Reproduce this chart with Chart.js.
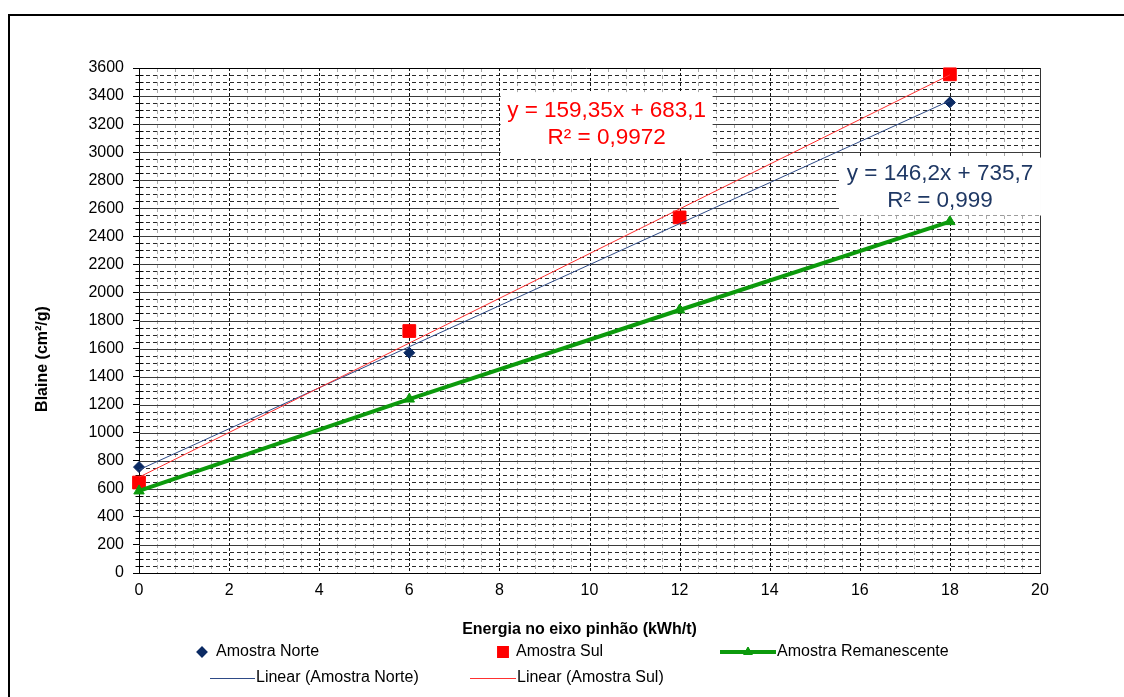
<!DOCTYPE html>
<html>
<head>
<meta charset="utf-8">
<script src="https://cdn.jsdelivr.net/npm/chart.js@4"></script>
<style>
  html, body { margin: 0; padding: 0; background: #fff; }
  #wrap { width: 1124px; height: 697px; position: relative; }
</style>
</head>
<body>
<div id="wrap"><canvas id="chart"></canvas></div>
<script>
// --- data ---
const energia = [0, 6, 12, 18];                       // kWh/t
const blaineNorte = [755, 1570, 2540, 3355];          // cm²/g
const blaineSul = [645, 1725, 2535, 3555];
const blaineRemanescente = [585, 1240, 1875, 2505];

// trendline coefficients as printed on the chart: [slope, intercept]
const trendNorte = [146.2, 735.7];
const trendSul = [159.35, 683.1];
const eqNorte = ['y = 146,2x + 735,7', 'R² = 0,999'];
const eqSul = ['y = 159,35x + 683,1', 'R² = 0,9972'];

const xRange = [0, 20, 2];     // min, max, step
const yRange = [0, 3600, 200];
const xTitle = 'Energia no eixo pinhão (kWh/t)';
const yTitle = 'Blaine (cm²/g)';

const FONT = '"Liberation Sans", Arial, sans-serif';
const NAVY = '#0b2a63';
const RED = '#ff0000';
const GREEN = '#0c9a0c';

Chart.defaults.font.family = FONT;
Chart.defaults.color = '#000';

const pts = (xs, ys) => xs.map((x, i) => ({ x: x, y: ys[i] }));
// trendline spans the sampled range
const trend = (c) => [energia[0], energia[energia.length - 1]].map(x => ({ x: x, y: c[0] * x + c[1] }));

// Excel-like grid: minor dashed lines, solid majors on y, dashed majors on x
const gridPlugin = {
  id: 'excelGrid',
  beforeDatasetsDraw(chart) {
    const { ctx, chartArea: a, scales: { x, y } } = chart;
    ctx.save();
    ctx.lineWidth = 1;
    const hline = (v, color, dash, x0, x1) => {
      const py = Math.round(y.getPixelForValue(v)) + 0.5;
      ctx.strokeStyle = color;
      ctx.setLineDash(dash);
      ctx.beginPath();
      ctx.moveTo(x0 !== undefined ? x0 : a.left, py);
      ctx.lineTo(x1 !== undefined ? x1 : a.right, py);
      ctx.stroke();
    };
    const vline = (v, color, dash) => {
      const px = Math.round(x.getPixelForValue(v)) + 0.5;
      ctx.strokeStyle = color;
      ctx.setLineDash(dash);
      ctx.beginPath();
      ctx.moveTo(px, a.top);
      ctx.lineTo(px, a.bottom);
      ctx.stroke();
    };
    // minor verticals every 0.4
    for (let i = 1; i < 50; i++) {
      if (i % 5 === 0) continue;
      vline(i * 0.4, '#a8a8a8', [4, 3]);
    }
    // minor horizontals every 50
    for (let v = 50; v < yRange[1]; v += 50) {
      if (v % 200 === 0) continue;
      hline(v, '#2a2a2a', [4, 3]);
    }
    // major horizontals
    for (let v = yRange[2]; v < yRange[1]; v += yRange[2]) hline(v, '#3a3a3a', []);
    // major verticals (dashed)
    for (let v = xRange[2]; v < xRange[1]; v += xRange[2]) vline(v, '#111', [3, 2]);
    // top + right border
    hline(yRange[1], '#000', [], a.left - 6, a.right);
    vline(xRange[1], '#333', []);
    // small crossing ticks on the y axis
    ctx.strokeStyle = '#000';
    ctx.setLineDash([]);
    const ax = Math.round(a.left) + 0.5;
    for (let v = 50; v < yRange[1]; v += 50) {
      if (v % 200 === 0) continue;
      const py = Math.round(y.getPixelForValue(v)) + 0.5;
      ctx.beginPath();
      ctx.moveTo(ax - 4, py);
      ctx.lineTo(ax + 4, py);
      ctx.stroke();
    }
    ctx.restore();
  }
};

// regression equation boxes
const eqPlugin = {
  id: 'eqBoxes',
  afterDatasetsDraw(chart) {
    const { ctx, scales: { x, y } } = chart;
    const boxes = [
      { lines: eqSul, color: RED, cx: 10.38, cy: 3200, w: 212, h: 64 },
      { lines: eqNorte, color: '#1f3864', cx: 17.78, cy: 2755, w: 202, h: 58 }
    ];
    ctx.save();
    ctx.font = '22.5px ' + FONT;
    ctx.textAlign = 'center';
    ctx.textBaseline = 'middle';
    boxes.forEach(b => {
      const px = x.getPixelForValue(b.cx);
      const py = y.getPixelForValue(b.cy);
      ctx.fillStyle = '#fff';
      ctx.fillRect(px - b.w / 2, py - b.h / 2, b.w, b.h);
      ctx.fillStyle = b.color;
      ctx.fillText(b.lines[0], px, py - 13);
      ctx.fillText(b.lines[1], px, py + 14);
    });
    ctx.restore();
  }
};

// frame, axis titles and the two-row legend
const decoPlugin = {
  id: 'deco',
  afterDraw(chart) {
    const { ctx, chartArea: a } = chart;
    ctx.save();
    ctx.strokeStyle = '#000';
    ctx.lineWidth = 2;
    ctx.beginPath();
    ctx.moveTo(9, 710);
    ctx.lineTo(9, 15);
    ctx.lineTo(1130, 15);
    ctx.stroke();

    ctx.fillStyle = '#000';
    ctx.font = 'bold 16px ' + FONT;
    ctx.textAlign = 'center';
    ctx.textBaseline = 'middle';
    ctx.fillText(xTitle, (a.left + a.right) / 2 - 10, 630);
    ctx.save();
    ctx.translate(43, 359);
    ctx.rotate(-Math.PI / 2);
    ctx.fillText(yTitle, 0, 0);
    ctx.restore();

    ctx.font = '16px ' + FONT;
    ctx.textAlign = 'left';
    const ds = chart.data.datasets;
    const row1 = 652, row2 = 678;
    const marker = (d, px, py) => {
      Chart.helpers.drawPoint(ctx, {
        pointStyle: d.pointStyle, radius: d.legendRadius, rotation: 0, borderWidth: 1
      }, px, py);
    };
    ctx.setLineDash([]);
    // Amostra Norte
    ctx.fillStyle = NAVY; ctx.strokeStyle = NAVY;
    marker(ds[0], 202, row1); ctx.fill();
    ctx.fillStyle = '#000';
    ctx.fillText(ds[0].label, 216, row1);
    // Amostra Sul
    ctx.fillStyle = RED; ctx.strokeStyle = RED;
    marker(ds[1], 503, row1); ctx.fill();
    ctx.fillStyle = '#000';
    ctx.fillText(ds[1].label, 516, row1);
    // Amostra Remanescente
    ctx.strokeStyle = GREEN; ctx.lineWidth = 4;
    ctx.beginPath(); ctx.moveTo(720, row1); ctx.lineTo(776, row1); ctx.stroke();
    ctx.fillStyle = GREEN; ctx.lineWidth = 1;
    marker(ds[2], 748, row1); ctx.fill();
    ctx.fillStyle = '#000';
    ctx.fillText(ds[2].label, 777, row1);
    // Linear lines
    ctx.lineWidth = 1;
    ctx.strokeStyle = ds[3].borderColor;
    ctx.beginPath(); ctx.moveTo(210, row2 + 0.5); ctx.lineTo(255, row2 + 0.5); ctx.stroke();
    ctx.fillText(ds[3].label, 256, row2);
    ctx.strokeStyle = ds[4].borderColor;
    ctx.beginPath(); ctx.moveTo(470, row2 + 0.5); ctx.lineTo(516, row2 + 0.5); ctx.stroke();
    ctx.fillText(ds[4].label, 517, row2);
    ctx.restore();
  }
};

new Chart(document.getElementById('chart'), {
  type: 'scatter',
  plugins: [gridPlugin, eqPlugin, decoPlugin],
  data: {
    datasets: [
      {
        label: 'Amostra Norte',
        data: pts(energia, blaineNorte),
        pointStyle: 'rectRot',
        pointRadius: 5.5,
        legendRadius: 4.5,
        backgroundColor: NAVY,
        borderColor: NAVY,
        showLine: false,
        clip: false,
        order: 4
      },
      {
        label: 'Amostra Sul',
        data: pts(energia, blaineSul),
        pointStyle: 'rect',
        pointRadius: 9,
        legendRadius: 7,
        backgroundColor: RED,
        borderColor: RED,
        showLine: false,
        clip: false,
        order: 3
      },
      {
        label: 'Amostra Remanescente',
        data: pts(energia, blaineRemanescente),
        pointStyle: 'triangle',
        pointRadius: 6,
        legendRadius: 5,
        backgroundColor: GREEN,
        borderColor: GREEN,
        borderWidth: 4,
        pointBorderWidth: 1,
        showLine: true,
        clip: false,
        order: 2
      },
      {
        label: 'Linear (Amostra Norte)',
        data: trend(trendNorte),
        borderColor: '#2e4a86',
        borderWidth: 1,
        pointRadius: 0,
        showLine: true,
        clip: false,
        order: 1
      },
      {
        label: 'Linear (Amostra Sul)',
        data: trend(trendSul),
        borderColor: '#ff3030',
        borderWidth: 1,
        pointRadius: 0,
        showLine: true,
        clip: false,
        order: 0
      }
    ]
  },
  options: {
    responsive: true,
    maintainAspectRatio: false,
    animation: false,
    events: [],
    layout: { padding: { left: 0, top: 68, right: 84, bottom: 52 } },
    plugins: {
      legend: { display: false },
      tooltip: { enabled: false }
    },
    scales: {
      x: {
        type: 'linear',
        min: xRange[0],
        max: xRange[1],
        ticks: { stepSize: xRange[2], font: { size: 16 }, color: '#000', padding: 8 },
        grid: { display: true, drawOnChartArea: false, drawTicks: false },
        border: { display: true, color: '#000', width: 1 },
        afterFit: (s) => { s.height = 697 - 52 - 573; }
      },
      y: {
        min: yRange[0],
        max: yRange[1],
        ticks: {
          stepSize: yRange[2], font: { size: 16 }, color: '#000', padding: 9,
          callback: (v) => String(v)
        },
        grid: { display: true, drawOnChartArea: false, drawTicks: true, tickLength: 6, tickColor: '#000' },
        border: { display: true, color: '#000', width: 1 },
        afterFit: (s) => { s.width = 139; }
      }
    }
  }
});
</script>
</body>
</html>
